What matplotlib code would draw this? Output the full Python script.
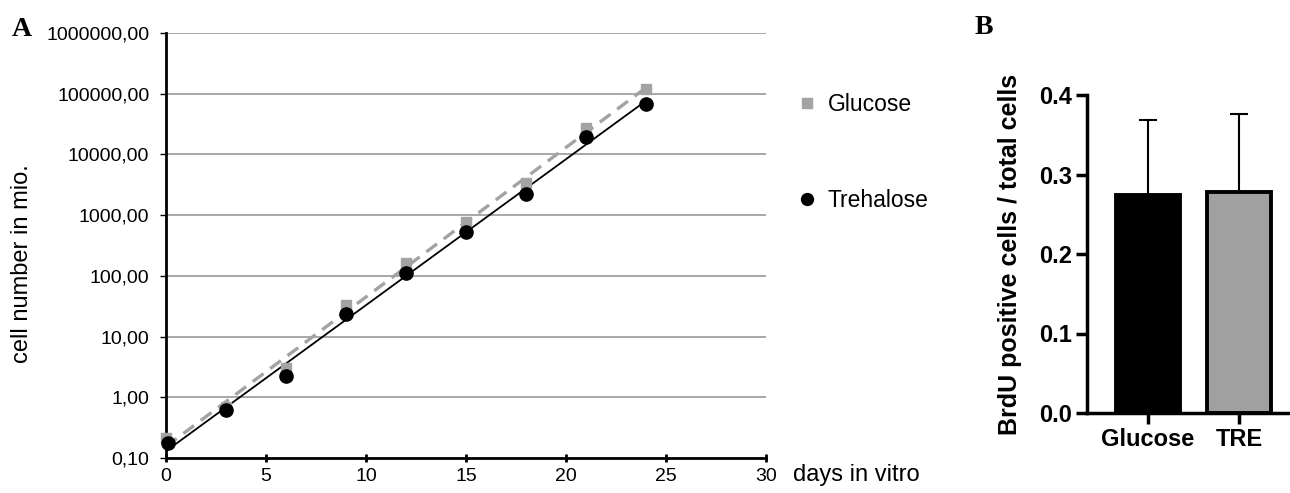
# Panel A: growth curves (log scale); Panel B: BrdU fraction bars
import matplotlib.pyplot as plt
import numpy as np
from matplotlib.ticker import FuncFormatter

plt.rcParams["font.family"] = ["Liberation Sans", "DejaVu Sans"]

# ---- data ----
days_glc = [0, 3, 6, 9, 12, 15, 18, 21, 24]
cells_glc = [0.21, 0.68, 3.0, 33, 163, 776, 3400, 27300, 120000]
days_tre = [0.1, 3, 6, 9, 12, 15, 18, 21, 24]
cells_tre = [0.177, 0.62, 2.27, 23.3, 113, 529, 2234, 19400, 67900]

groups = ["Glucose", "TRE"]
brdu_mean = [0.274, 0.278]
brdu_sd = [0.094, 0.098]

gray = "#a3a3a3"

fig = plt.figure(figsize=(12.9, 4.93), dpi=100)

# ---- A ----
ax = fig.add_axes([0.1287, 0.071, 0.465, 0.862])
ax.set_yscale("log")
ax.set_ylim(0.1, 1e6)
ax.set_xlim(0, 30)
ax.set_yticks([0.1, 1, 10, 100, 1e3, 1e4, 1e5, 1e6])
ax.yaxis.set_minor_locator(plt.NullLocator())
ax.yaxis.set_major_formatter(FuncFormatter(lambda v, p: f"{v:.2f}".replace(".", ",")))
ax.set_xticks([0, 5, 10, 15, 20, 25, 30])
ax.grid(axis="y", color="#9a9a9a", linewidth=1.2)
ax.set_axisbelow(True)
for s in ["top", "right"]:
    ax.spines[s].set_visible(False)
ax.spines["left"].set_linewidth(2)
ax.spines["bottom"].set_linewidth(2)
ax.tick_params(axis="y", length=4, width=1, pad=8, labelsize=14)
ax.tick_params(axis="x", direction="inout", length=6, width=2, pad=4, labelsize=14)

# exponential trendlines (fit on log scale)
xfit = np.array([0, 24])
k, b = np.polyfit(days_glc, np.log10(cells_glc), 1)
ax.plot(xfit, 10 ** (k * xfit + b), color=gray, lw=2.4, ls=(0, (4, 2.5)), zorder=3)
k, b = np.polyfit(days_tre, np.log10(cells_tre), 1)
ax.plot(xfit, 10 ** (k * xfit + b), color="black", lw=1.3, zorder=3)

ax.plot(days_glc, cells_glc, ls="none", marker="s", ms=7.5, color=gray,
        label="Glucose", zorder=4, clip_on=False)
ax.plot(days_tre, cells_tre, ls="none", marker="o", ms=9.5, color="black",
        label="Trehalose", zorder=5, clip_on=False)

ax.legend(loc="upper left", bbox_to_anchor=(1.015, 0.908), frameon=False,
          fontsize=16.5, labelspacing=3.2, handletextpad=0.4, markerscale=0.9,
          handlelength=1.0)

fig.text(22 / 1290, 1 - 264 / 493, "cell number in mio.", rotation=90,
         ha="center", va="center", fontsize=17)
fig.text(793 / 1290, 1 - 475 / 493, "days in vitro", ha="left", va="center",
         fontsize=17)
fig.text(12 / 1290, 1 - 30 / 493, "A", family="Liberation Serif",
         fontweight="bold", fontsize=20, ha="left", va="center")

# ---- B ----
ax2 = fig.add_axes([1087 / 1290, 1 - 413 / 493, 203 / 1290, 318 / 493])
xpos = np.arange(len(groups))
ax2.bar(xpos, brdu_mean, width=0.7, color=["black", "#a0a0a0"],
        edgecolor="black", linewidth=2.8, zorder=3)
ax2.errorbar(xpos, brdu_mean, yerr=[[0, 0], brdu_sd], fmt="none",
             ecolor="black", elinewidth=1.5, capsize=6.5, capthick=1.5, zorder=2)
ax2.set_xlim(-0.67, 1.56)
ax2.set_ylim(0, 0.4)
ax2.set_yticks([0.0, 0.1, 0.2, 0.3, 0.4])
ax2.yaxis.set_major_formatter(FuncFormatter(lambda v, p: f"{v:.1f}"))
ax2.set_xticks(xpos)
ax2.set_xticklabels(groups)
for s in ["top", "right"]:
    ax2.spines[s].set_visible(False)
ax2.spines["left"].set_linewidth(2.5)
ax2.spines["bottom"].set_linewidth(2.5)
ax2.tick_params(length=8, width=2.5, pad=3, labelsize=17)
for lab in ax2.get_xticklabels() + ax2.get_yticklabels():
    lab.set_fontweight("bold")

fig.text(1010 / 1290, 1 - 254 / 493, "BrdU positive cells / total cells",
         rotation=90, ha="center", va="center", fontsize=18, fontweight="bold")
fig.text(975 / 1290, 1 - 27 / 493, "B", family="Liberation Serif",
         fontweight="bold", fontsize=20, ha="left", va="center")

fig.savefig("out.png", dpi=100)
